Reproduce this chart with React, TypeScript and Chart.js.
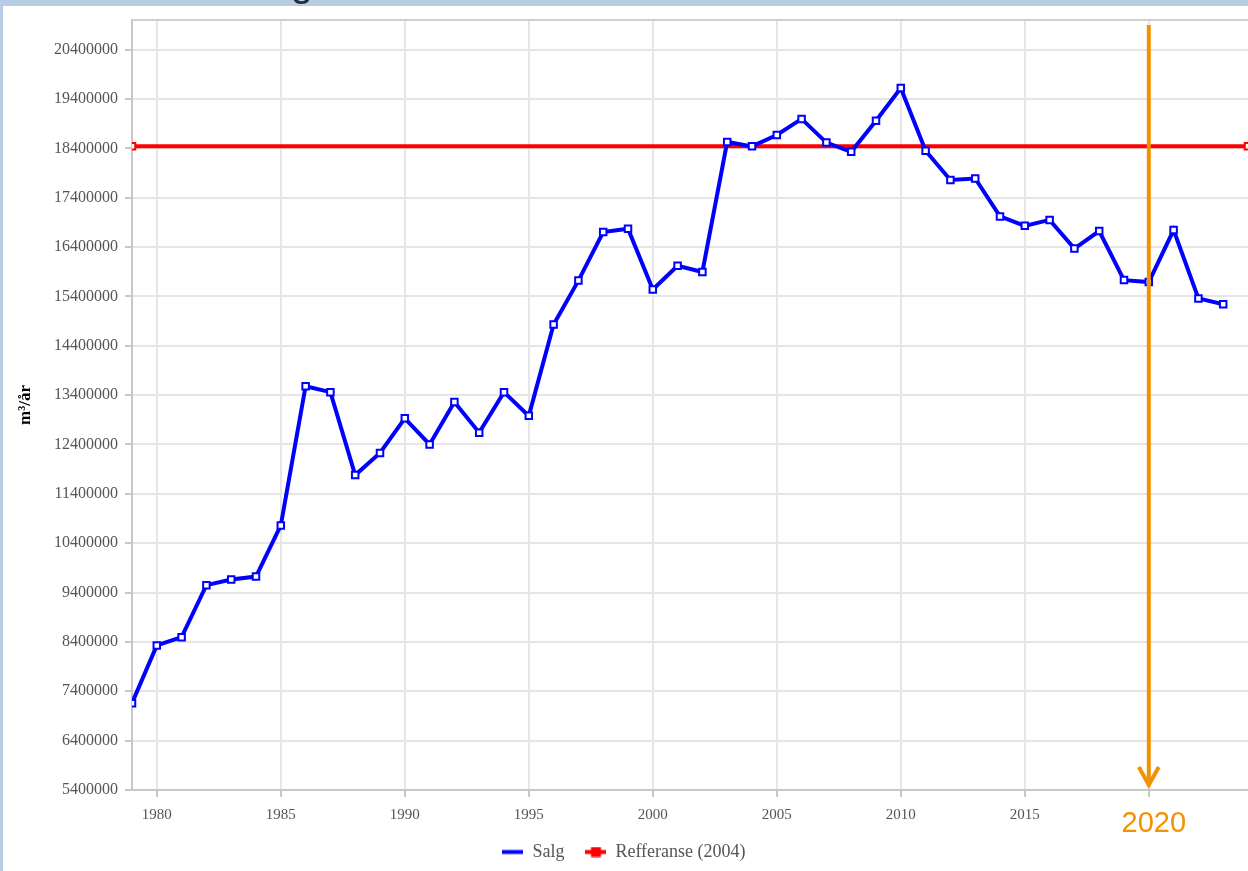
import React, { useEffect, useRef } from 'react';
import { Chart, registerables } from 'chart.js';

Chart.register(...registerables);

const years = [
  1979, 1980, 1981, 1982, 1983, 1984, 1985, 1986, 1987, 1988, 1989, 1990,
  1991, 1992, 1993, 1994, 1995, 1996, 1997, 1998, 1999, 2000, 2001, 2002,
  2003, 2004, 2005, 2006, 2007, 2008, 2009, 2010, 2011, 2012, 2013, 2014,
  2015, 2016, 2017, 2018, 2019, 2020, 2021, 2022, 2023,
];
const salg = [
  7160000, 8330000, 8495000, 9550000, 9665000, 9725000, 10760000, 13580000,
  13460000, 11780000, 12230000, 12930000, 12400000, 13260000, 12640000,
  13460000, 12980000, 14830000, 15720000, 16705000, 16770000, 15540000,
  16020000, 15895000, 18530000, 18440000, 18670000, 18996000, 18516000,
  18330000, 18960000, 19620000, 18350000, 17760000, 17790000, 17020000,
  16830000, 16950000, 16370000, 16725000, 15730000, 15690000, 16745000,
  15360000, 15240000,
];
const referanseYears = [1979, 2024];
const referanseValues = [18440000, 18440000];
const xTickValues = [1980, 1985, 1990, 1995, 2000, 2005, 2010, 2015, 2020];
const yTickValues = [
  5400000, 6400000, 7400000, 8400000, 9400000, 10400000, 11400000, 12400000,
  13400000, 14400000, 15400000, 16400000, 17400000, 18400000, 19400000,
  20400000,
];
const xMin = 1979;
const xMax = 2024;
const yMin = 5400000;
const yMax = 21000000;
const markerYear = 2020;
const markerLabel = '2020';
const yTitle = 'm³/år';
const salgLabel = 'Salg';
const refLabel = 'Refferanse (2004)';
const pageTitle = 'Salg';

const SERIF = '"Liberation Serif", "Times New Roman", serif';
const SANS = '"Liberation Sans", Arial, sans-serif';
const W = 1248;
const H = 871;

function makeSample(color: string, withSquare: boolean) {
  const c = document.createElement('canvas');
  c.width = 21;
  c.height = 11;
  const g = c.getContext('2d')!;
  g.fillStyle = color;
  g.fillRect(0, 3.5, 21, 4);
  if (withSquare) g.fillRect(5.5, 0.5, 10, 10);
  return c;
}

export default function App() {
  const ref = useRef<HTMLCanvasElement>(null);

  useEffect(() => {
    const canvas = ref.current;
    if (!canvas) return;
    const blueSample = makeSample('#0000ff', false);
    const redSample = makeSample('#ff0000', true);

    const framePlugin = {
      id: 'frame',
      beforeDraw(chart: any) {
        const { ctx } = chart;
        ctx.save();
        ctx.fillStyle = '#ffffff';
        ctx.fillRect(0, 0, chart.width, chart.height);
        ctx.restore();
      },
      afterDatasetsDraw(chart: any) {
        const { ctx, chartArea, scales } = chart;
        const x = scales.x.getPixelForValue(markerYear);
        ctx.save();
        ctx.strokeStyle = '#f39200';
        ctx.lineWidth = 4;
        ctx.lineCap = 'butt';
        ctx.beginPath();
        ctx.moveTo(x, chartArea.top + 5);
        ctx.lineTo(x, chartArea.bottom - 4);
        ctx.stroke();
        ctx.lineJoin = 'miter';
        ctx.beginPath();
        ctx.moveTo(x - 10, chartArea.bottom - 23);
        ctx.lineTo(x, chartArea.bottom - 5);
        ctx.lineTo(x + 10, chartArea.bottom - 23);
        ctx.stroke();
        ctx.restore();
      },
      afterDraw(chart: any) {
        const { ctx, chartArea, scales } = chart;
        ctx.save();
        // top frame line
        ctx.strokeStyle = '#d0d0d0';
        ctx.lineWidth = 2;
        ctx.beginPath();
        ctx.moveTo(chartArea.left, chartArea.top);
        ctx.lineTo(chartArea.right, chartArea.top);
        ctx.stroke();
        // 2020 label
        const x = scales.x.getPixelForValue(markerYear);
        ctx.fillStyle = '#f39200';
        ctx.font = `29px ${SANS}`;
        ctx.textAlign = 'center';
        ctx.textBaseline = 'alphabetic';
        ctx.fillText(markerLabel, x + 5, 832);
        // page border strips
        ctx.fillStyle = '#b8cce4';
        ctx.fillRect(0, 0, chart.width, 6);
        ctx.fillRect(0, 0, 3, chart.height);
        // clipped page title
        ctx.fillStyle = '#1f2d3d';
        ctx.font = `40px ${SANS}`;
        ctx.textAlign = 'right';
        ctx.fillText(pageTitle, 313, -4);
        ctx.restore();
      },
    };

    const chart = new Chart(canvas, {
      type: 'line',
      data: {
        datasets: [
          {
            label: salgLabel,
            data: years.map((y, i) => ({ x: y, y: salg[i] })),
            borderColor: '#0000ff',
            borderWidth: 4,
            backgroundColor: '#ffffff',
            pointStyle: 'rect',
            pointRadius: 4.6,
            pointBorderWidth: 2,
            pointBorderColor: '#0000ff',
            pointBackgroundColor: '#ffffff',
            tension: 0,
            order: 1,
          },
          {
            label: refLabel,
            data: referanseYears.map((y, i) => ({ x: y, y: referanseValues[i] })),
            borderColor: '#ff0000',
            borderWidth: 4,
            backgroundColor: '#ffffff',
            pointStyle: 'rect',
            pointRadius: 4.6,
            pointBorderWidth: 2,
            pointBorderColor: '#ff0000',
            pointBackgroundColor: '#ffffff',
            tension: 0,
            order: 2,
          },
        ],
      },
      options: {
        responsive: false,
        animation: false,
        layout: { autoPadding: false, padding: { left: 0, right: 0, top: 20, bottom: 0 } },
        plugins: {
          tooltip: { enabled: false },
          legend: {
            position: 'bottom',
            labels: {
              usePointStyle: true,
              pointStyleWidth: 21,
              padding: 21,
              color: '#555555',
              font: { family: SERIF, size: 18 },
              generateLabels: (c: any) => {
                const items = (Chart.defaults.plugins.legend.labels as any).generateLabels(c);
                items.forEach((it: any, i: number) => {
                  it.pointStyle = i === 0 ? blueSample : redSample;
                });
                return items;
              },
            },
          },
        },
        scales: {
          x: {
            type: 'linear',
            min: xMin,
            max: xMax,
            afterBuildTicks: (s: any) => {
              s.ticks = xTickValues.map((v) => ({ value: v }));
            },
            afterFit: (s: any) => {
              s.height = 32;
            },
            grid: {
              color: '#e6e6e6',
              lineWidth: 2,
              tickColor: '#c8c8c8',
              tickLength: 7,
            },
            border: { color: '#c8c8c8', width: 2 },
            ticks: {
              autoSkip: false,
              maxRotation: 0,
              padding: 9,
              color: '#555555',
              font: { family: SERIF, size: 15 },
              callback: (v: any) => (v === markerYear ? '' : String(v)),
            },
          },
          y: {
            type: 'linear',
            min: yMin,
            max: yMax,
            afterBuildTicks: (s: any) => {
              s.ticks = yTickValues.map((v) => ({ value: v }));
            },
            afterFit: (s: any) => {
              s.width = 132;
            },
            grid: {
              color: '#e6e6e6',
              lineWidth: 2,
              tickColor: '#c8c8c8',
              tickLength: 7,
            },
            border: { color: '#c8c8c8', width: 2 },
            ticks: {
              padding: 7,
              color: '#555555',
              font: { family: SERIF, size: 16 },
              callback: (v: any) => String(v),
            },
            title: {
              display: true,
              text: yTitle,
              color: '#000000',
              font: { family: SERIF, size: 17, weight: 'bold' },
              padding: { top: 15, bottom: 0 },
            },
          },
        },
      },
      plugins: [framePlugin],
    });

    return () => chart.destroy();
  }, []);

  return (
    <div style={{ position: 'absolute', left: 0, top: 0, width: W, height: H }}>
      <canvas ref={ref} width={W} height={H} style={{ width: W, height: H, display: 'block' }} />
    </div>
  );
}
